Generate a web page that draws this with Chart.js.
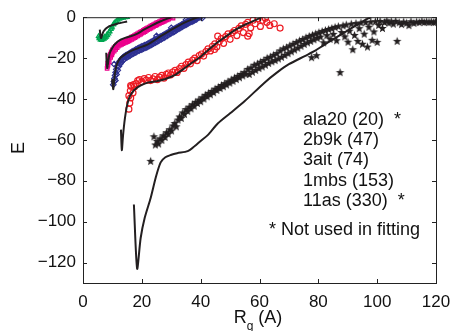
<!DOCTYPE html>
<html>
<head>
<meta charset="utf-8">
<script src="https://cdn.jsdelivr.net/npm/chart.js@4.4.0/dist/chart.umd.min.js"></script>
<style>
  html, body { margin: 0; padding: 0; background: #fff; }
  #wrap { width: 450px; height: 331px; }
</style>
</head>
<body>
<div id="wrap"><canvas id="rgChart" width="450" height="331"></canvas></div>
<script>
// axis ticks
const xTicks = [0, 20, 40, 60, 80, 100, 120];
const yTicks = [-120, -100, -80, -60, -40, -20, 0];

// legend text lines (right side of the plot)
const noteLines = ["ala20 (20)  *", "2b9k (47)", "3ait (74)", "1mbs (153)", "11as (330)  *"];
const noteFoot = "* Not used in fitting";

// measured points, [Rg, E]
const ala20Pts = [[5.3,-9.3],[5.5,-10],[5.6,-10.4],[5.9,-11],[6.1,-10.2],[6.3,-11.2],[6.7,-10.8],[7.1,-10.6],[7.3,-9.6],[7.5,-10.1],[7.9,-9.6],[8.1,-8.6],[8.3,-8.9],[8.7,-8],[8.9,-7.1],[9.1,-7],[9.5,-5.9],[9.7,-5.2],[9.9,-4.8],[10.3,-3.6],[10.5,-3.2],[10.8,-2.7],[11.3,-1.9],[11.8,-1.3],[12.4,-0.8],[13,-0.5],[13.6,-0.3],[14.3,-0.1],[15,0]];

const b9kPts = [[8.2,-25],[8.3,-24],[8.4,-22.5],[8.5,-23.5],[8.6,-21],[8.8,-20],[8.9,-21.8],[9,-19],[9.3,-18],[9.4,-19.6],[9.6,-17],[9.8,-18.4],[10,-16],[10,-17.5],[10.5,-15],[10.6,-16.6],[11,-14.3],[11.1,-15.7],[11.5,-13.6],[11.6,-14.9],[12,-13],[12,-14.2],[12.5,-12.6],[12.6,-13.7],[13,-12.2],[13.1,-13.3],[13.5,-11.8],[13.6,-12.9],[14,-11.6],[14,-12.6],[14.5,-11.3],[14.6,-12.3],[15,-11],[15.1,-12],[15.5,-10.6],[15.6,-11.6],[16,-10.2],[16,-11.2],[16.5,-9.8],[16.6,-10.8],[17,-9.4],[17.1,-10.4],[17.5,-9],[17.6,-10],[18,-8.5],[18,-9.6],[18.5,-8.1],[18.6,-9.1],[19,-7.7],[19.1,-8.7],[19.5,-7.3],[19.6,-8.3],[20,-6.9],[20,-7.8],[20.5,-6.5],[20.6,-7.4],[21,-6],[21.1,-7],[21.5,-5.6],[21.6,-6.5],[22,-5.2],[22,-6.1],[22.5,-4.8],[22.6,-5.7],[23,-4.4],[23.1,-5.3],[23.5,-4],[23.6,-4.9],[24,-3.6],[24,-4.5],[24.5,-3.2],[24.6,-4.1],[25,-2.8],[25.1,-3.7],[25.5,-2.5],[25.6,-3.3],[26,-2.1],[26,-3],[26.5,-1.8],[26.6,-2.6],[27,-1.5],[27.1,-2.3],[27.5,-1.2],[27.6,-2],[28,-0.9],[28,-1.6],[28.5,-0.6],[28.6,-1.3],[29,-0.4],[29.1,-1],[29.5,-0.2],[30,0],[30.6,-0.4]];

const aitPts = [[10.3,-33],[10.5,-31.5],[10.6,-23],[10.7,-30],[10.9,-28.5],[11.1,-27],[11,-31],[11.3,-25.5],[11.4,-28],[11.6,-24],[11.8,-26],[12,-22.5],[12.2,-24],[12.5,-21.5],[12.7,-22.8],[13,-20.5],[13.2,-21.8],[13.5,-19.8],[13.7,-21],[14,-19.2],[14,-20.5],[14.5,-18.7],[14.6,-19.9],[15,-18.3],[15.1,-19.5],[15.5,-17.9],[15.6,-19.1],[16,-17.5],[16,-18.8],[16.5,-17],[16.6,-18.2],[17,-16.6],[17.1,-17.8],[17.5,-16.2],[17.6,-17.4],[18,-15.8],[18,-17.2],[18.5,-15.4],[18.6,-16.6],[19,-15],[19.1,-16.3],[19.5,-14.6],[19.6,-15.9],[20,-14.3],[20,-15.8],[20.5,-14],[20.6,-15.3],[21,-13.7],[21.1,-15],[21.5,-13.4],[21.6,-14.7],[22,-13],[22,-14.5],[22.5,-12.6],[22.6,-14],[23,-12.2],[23.1,-13.6],[23.5,-11.8],[23.6,-13.2],[24,-11.4],[24,-12.9],[24.5,-11],[24.6,-12.4],[25,-10.6],[25,-9.2],[25.1,-12],[25.5,-10.2],[25.6,-11.6],[26,-9.8],[26,-11.2],[26.5,-9.4],[26.6,-10.8],[27,-9],[27.1,-10.4],[27.5,-8.6],[27.6,-10],[28,-8.2],[28,-9.6],[28.5,-7.8],[28.6,-9.1],[29,-7.3],[29.1,-8.6],[29.5,-6.9],[29.6,-8.2],[30,-6.5],[30,-7.8],[30,-5.2],[30.5,-6.1],[30.6,-7.4],[31,-5.7],[31.1,-7],[31.5,-5.3],[31.6,-6.5],[32,-4.9],[32,-6.1],[32.5,-4.5],[32.6,-5.7],[33,-4.1],[33.1,-5.2],[33.5,-3.7],[33.6,-4.8],[34,-3.3],[34,-4.4],[34.5,-2.9],[34.6,-4],[35,-2.5],[35,-1.3],[35.1,-3.6],[35.5,-2.1],[35.6,-3.2],[36,-1.8],[36,-2.8],[36.5,-1.5],[36.6,-2.4],[37,-1.2],[37.1,-2.1],[37.5,-0.9],[37.6,-1.8],[38,-0.6],[38,-1.4],[38.5,-0.4],[38.6,-1.1],[39,-0.2],[39.5,-0.1],[40,0],[40.6,-0.3]];

const mbsPts = [[15.6,-45],[15.6,-38.4],[15.9,-42],[16.2,-39.5],[16.1,-36],[16.2,-33.5],[16.5,-33.8],[17,-37],[17.2,-33],[17.5,-34],[18,-32.5],[18.6,-31],[19.2,-30.5],[20,-31.5],[20.8,-30],[21.5,-30.8],[22.3,-29.5],[23,-31],[23.8,-30.2],[24.5,-29],[25.3,-30.5],[26,-29.3],[26.8,-28.5],[27.5,-29.8],[28.3,-28],[29,-27.3],[29.8,-28.2],[30.5,-26.8],[31.3,-26],[32,-27],[32.8,-25.2],[33.5,-24],[34.3,-25],[35,-23.2],[35.8,-22],[36.5,-22.8],[37.3,-21],[38,-20],[38.8,-21.2],[39.5,-18.8],[40.3,-18],[41,-19],[41.8,-16.8],[42.5,-15.5],[43.3,-16.5],[44,-14.2],[44.7,-15.8],[44.8,-13],[45.5,-14.5],[45.8,-9.3],[46.3,-12],[47,-10.5],[47.8,-12.8],[48.5,-9.5],[49.3,-8.2],[50,-10.8],[50.8,-7.5],[51.5,-6.5],[52.3,-9],[53,-5.5],[53.8,-4.2],[54.5,-7.5],[55.3,-3.5],[56,-9.3],[56,-2.5],[56.5,-8],[57,-5.2],[57.8,-1.5],[58.5,-3.2],[59.5,-0.8],[60.3,-4.5],[61,-1.5],[62,-0.5],[62.5,-2.5],[63.5,-4],[65,-3.2],[67,-5.3]];

const as11Pts = [[23,-70.5],[24.1,-58.5],
  [24.6,-62.5],[25.2,-60.8],[25.7,-62],[26.2,-59.5],[26.8,-60.2],[27.3,-58],[27.9,-58.8],[28.4,-56.5],[29,-57.2],[29.5,-55],[30.1,-55.6],[30.6,-53.2],[31.2,-52],[31.7,-53.6],[32.3,-50.3],[32.8,-48.8],[33.4,-49.5],[33.9,-46.8],[34.5,-47.5],[35,-45.2],[35.6,-46],[36.1,-44],[36.7,-44.8],[37.2,-42.8],[37.8,-43.5],[38.3,-41.6],[38.9,-42.2],[39.4,-40.5],[40,-41.3],[40.5,-39.4],[41.1,-40],[41.6,-38.2],[42.2,-38.9],[42.7,-37.2],[43.3,-37.9],[43.8,-36.3],[44.4,-36.9],[44.9,-35.2],[45.5,-35.8],[46,-34.3],[46.6,-34.9],[47.1,-33.4],[47.7,-34],[48.2,-32.5],[48.8,-33.1],[49.3,-31.6],[49.9,-32.2],[50.4,-30.7],[51,-31.3],[51.5,-29.8],[52.1,-30.5],[52.6,-28.9],[53.2,-29.6],[53.7,-28],[54.3,-28.7],[54.8,-27.1],[55.4,-27.9],
  [56,-25.5],[56.5,-28],[57.1,-24.8],[57.6,-26.9],[58.2,-23.5],[58.7,-26],[59.3,-22.9],[59.8,-25.1],[60.4,-22],[60.9,-24.3],[61.5,-21.2],[62,-23.5],[62.6,-20.1],[63.1,-22.6],[63.7,-19.5],[64.2,-21.8],[64.8,-18.6],[65.3,-21.2],[65.9,-17.8],[66.4,-20.4],[67,-16.5],[67.5,-19.6],[68.1,-15.5],[68.6,-18.7],[69.2,-14.9],[69.7,-17.8],[70.3,-14],[70.8,-16.9],[71.4,-13.2],[71.9,-16],[72.5,-12.4],[73,-15.1],[73.6,-11.6],[74.1,-14.2],[74.7,-10.9],[75.2,-13.3],
  [75.8,-10.1],[76.3,-12.5],[76.9,-9.4],[77.4,-11.8],[77.7,-19.8],[78,-8.8],[78.5,-11],[79.1,-8.2],[79.4,-18.8],[79.6,-10.3],[80.2,-7.6],[80.7,-9.7],[81.3,-7],[81.8,-12.5],[82.4,-6.5],[82.9,-9],[83.5,-6],[84,-10.8],[84.6,-5.5],[85.1,-8.4],[85.7,-5],[86.2,-11.5],[86.8,-4.6],[87.4,-27.1],[87.9,-7.5],[88.4,-4.2],[89,-9.6],[89.5,-3.8],[90.1,-12.2],[90.6,-6.8],[91.2,-3.4],[91.7,-15.9],[92.3,-8.9],[92.8,-3.1],[93.4,-11.8],[93.9,-5.6],[94.5,-2.8],[95,-13.2],[95.6,-8.3],[96.1,-2.6],[96.7,-14.6],[97.2,-4.9],[97.8,-2.4],[98.3,-11.3],[98.9,-7.2],[99.4,-2.2],[100,-12.3],[100.5,-4],
  [101,-2.1],[101.8,-5.5],[102.5,-2.6],[103.3,-1.8],[104,-2.9],[104.8,-2.2],[105.5,-3.4],[106.3,-2],[106.8,-11.8],[107.5,-2.7],[108.3,-3.6],[109,-2.4],[110,-2.9],[110.8,-4.1],[111.5,-2.2],[112.5,-3],[113.4,-2.4],[114.3,-2.6],[115.2,-2.1],[116,-2.6],[116.8,-2.3],[117.6,-2.5],[118.4,-2.3],[119.2,-2.6],[119.8,-2.4]];

// fitted curves, [Rg, E]
const ala20Fit = [[5.7,-6.1],[6.1,-10.2],[7,-6.9],[8.8,-4.5],[11.6,-3.2],[15,-2.1]];
const b9kFit = [[7.9,-17.4],[8.2,-25],[9,-18],[10,-15],[11,-13],[12.8,-11],[14.5,-10],[16.2,-9.3],[18.5,-8],[20.7,-6.1],[23.5,-4],[26.4,-2],[29.9,0]];
const aitFit = [[9.9,-30.3],[10.3,-35.2],[10.8,-28],[11.5,-23],[12.8,-19.8],[14.5,-18],[16.2,-16.6],[19,-15],[21.9,-13.4],[24,-11.6],[26.4,-9.3],[29,-7],[32.1,-4.5],[34.5,-2.7],[36.7,-1.3],[38.5,-0.3],[39.5,0]];
const mbsFit = [[12.9,-55],[13.2,-65],[13.6,-58],[14.2,-50],[15,-43],[16,-38.5],[17.5,-35.5],[19.5,-33.5],[22,-32],[25,-31.3],[28,-30.2],[31,-28.5],[34,-25.5],[37,-22.3],[40,-19.3],[43,-15.5],[46,-12],[49,-9],[52,-6],[55,-3.7],[58,-1.8],[60.7,0]];
const as11Fit = [[17.3,-91.6],[18.4,-123],[19.6,-108],[21,-98],[23,-88.4],[24.8,-78],[26.4,-71],[28,-68.5],[29.8,-67.4],[32,-66.5],[35.6,-65.5],[38,-63],[40,-60.5],[42.4,-57.7],[45.8,-52],[50,-47],[55,-41],[61.7,-32],[66,-27],[70,-23],[75.4,-19],[78.8,-16.5],[82,-13.5],[86.8,-9.3],[90,-6.5],[94,-3],[97.1,-0.5],[98,0]];

const FONT = "'Liberation Sans', Arial, Helvetica, sans-serif";
const toXY = pts => pts.map(p => ({ x: p[0], y: p[1] }));

// filled five point star used as marker for 11as
function makeStar(r, color) {
  const c = document.createElement("canvas");
  c.width = c.height = r * 2 + 2;
  const g = c.getContext("2d");
  g.fillStyle = color;
  g.beginPath();
  for (let i = 0; i < 10; i++) {
    const rad = i % 2 === 0 ? r : r * 0.42;
    const a = -Math.PI / 2 + i * Math.PI / 5;
    const px = r + 1 + rad * Math.cos(a);
    const py = r + 1 + rad * Math.sin(a);
    if (i === 0) g.moveTo(px, py); else g.lineTo(px, py);
  }
  g.closePath();
  g.fill();
  return c;
}
const starImg = makeStar(4.5, "#231f20");

function scatterSet(label, pts, color, style, radius) {
  return {
    type: "scatter",
    label: label,
    data: toXY(pts),
    pointStyle: style,
    pointRadius: radius,
    pointBorderColor: color,
    pointBackgroundColor: "rgba(0,0,0,0)",
    pointBorderWidth: 1.2,
    showLine: false,
    clip: 0,
    order: 2,
  };
}

function fitSet(label, pts) {
  return {
    type: "line",
    label: label,
    data: toXY(pts),
    borderColor: "#231f20",
    borderWidth: 2,
    pointRadius: 0,
    tension: 0.25,
    fill: false,
    clip: 0,
    order: 1,
  };
}

// box around the plot, inward tick marks, legend text and axis titles
const framePlugin = {
  id: "frame",
  afterDraw(chart) {
    const { ctx, chartArea: a, scales } = chart;
    const x = scales.x, y = scales.y;
    ctx.save();
    ctx.strokeStyle = "#222";
    ctx.lineWidth = 1;
    ctx.strokeRect(a.left + 0.5, a.top + 0.5, a.right - a.left, a.bottom - a.top);
    const t = 4;
    ctx.beginPath();
    xTicks.forEach(v => {
      const px = Math.round(x.getPixelForValue(v)) + 0.5;
      ctx.moveTo(px, a.bottom); ctx.lineTo(px, a.bottom - t);
      ctx.moveTo(px, a.top); ctx.lineTo(px, a.top + t);
    });
    yTicks.forEach(v => {
      const py = Math.round(y.getPixelForValue(v)) + 0.5;
      ctx.moveTo(a.left, py); ctx.lineTo(a.left + t, py);
      ctx.moveTo(a.right, py); ctx.lineTo(a.right - t, py);
    });
    ctx.stroke();

    ctx.fillStyle = "#111";
    ctx.textBaseline = "middle";
    ctx.textAlign = "left";
    ctx.font = "18px " + FONT;
    noteLines.forEach((s, i) => ctx.fillText(s, 303, 120 + i * 20.2));
    ctx.fillText(noteFoot, 269, 230);

    // y title
    ctx.save();
    ctx.translate(19, 148);
    ctx.rotate(-Math.PI / 2);
    ctx.textAlign = "center";
    ctx.fillText("E", 0, 0);
    ctx.restore();

    // x title with subscript
    const cx = 258;
    ctx.font = "18px " + FONT;
    const wR = ctx.measureText("R").width;
    ctx.font = "12px " + FONT;
    const wg = ctx.measureText("g").width;
    ctx.font = "18px " + FONT;
    const wA = ctx.measureText(" (A)").width;
    const sx = cx - (wR + wg + wA) / 2;
    ctx.fillText("R", sx, 318);
    ctx.font = "12px " + FONT;
    ctx.fillText("g", sx + wR, 327);
    ctx.font = "18px " + FONT;
    ctx.fillText(" (A)", sx + wR + wg, 318);
    ctx.restore();
  },
};

const ctx = document.getElementById("rgChart").getContext("2d");
new Chart(ctx, {
  data: {
    datasets: [
      fitSet("ala20 fit", ala20Fit),
      fitSet("2b9k fit", b9kFit),
      fitSet("3ait fit", aitFit),
      fitSet("1mbs fit", mbsFit),
      fitSet("11as fit", as11Fit),
      scatterSet("ala20 (20)", ala20Pts, "#00a651", "triangle", 2.5),
      scatterSet("2b9k (47)", b9kPts, "#ec008c", "rect", 2.5),
      scatterSet("3ait (74)", aitPts, "#2e3192", "rectRot", 2.8),
      scatterSet("1mbs (153)", mbsPts, "#ed1c24", "circle", 3),
      scatterSet("11as (330)", as11Pts, "#231f20", starImg, 4.5),
    ],
  },
  options: {
    responsive: false,
    animation: false,
    layout: { padding: { left: 0, right: 2, top: 14, bottom: 0 } },
    plugins: {
      legend: { display: false },
      tooltip: { enabled: false },
    },
    scales: {
      x: {
        type: "linear",
        min: 0,
        max: 120,
        afterBuildTicks: axis => { axis.ticks = xTicks.map(v => ({ value: v })); },
        afterFit: axis => { axis.height = 48; axis.paddingRight = 14; },
        grid: { display: false, drawTicks: false },
        border: { display: false },
        ticks: { color: "#111", font: { family: FONT, size: 17 }, padding: 9, maxRotation: 0 },
      },
      y: {
        type: "linear",
        min: -130,
        max: 0,
        afterBuildTicks: axis => { axis.ticks = yTicks.map(v => ({ value: v })); },
        afterFit: axis => { axis.width = 83; },
        grid: { display: false, drawTicks: false },
        border: { display: false },
        ticks: {
          color: "#111",
          font: { family: FONT, size: 17 },
          padding: 7,
          callback: v => (v < 0 ? "\u2212" + Math.abs(v) : String(v)),
        },
      },
    },
  },
  plugins: [framePlugin],
});
</script>
</body>
</html>
